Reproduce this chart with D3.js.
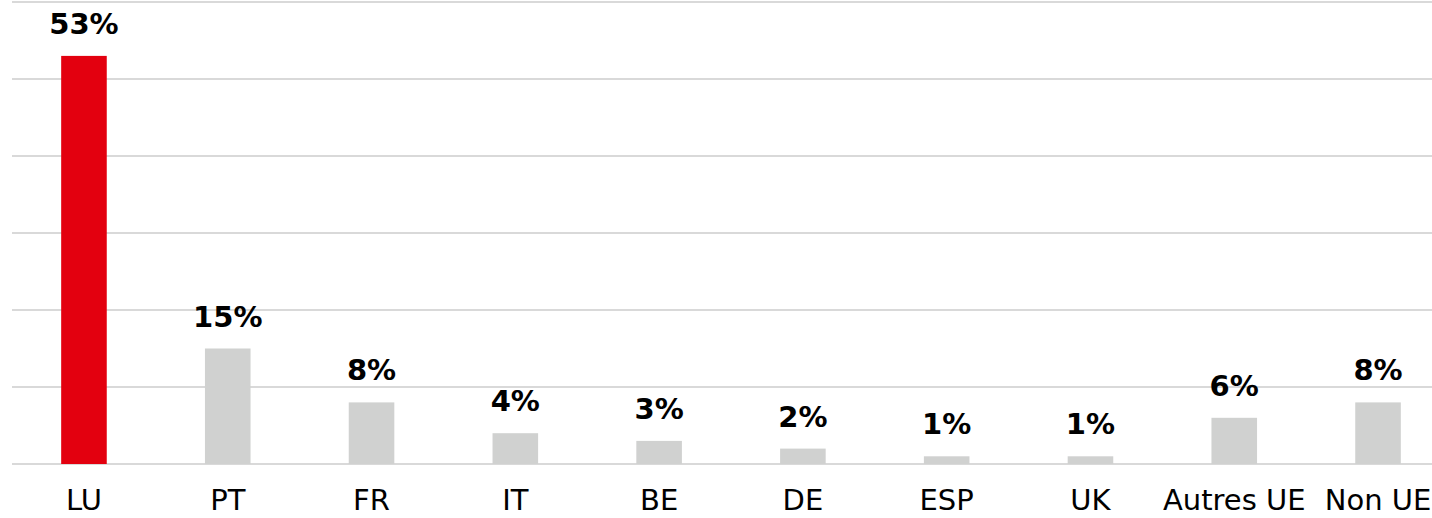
<!DOCTYPE html>
<head>
    <meta charset="utf-8">
    <style type="text/css">
    body { margin: 0; background: #fff; }
    </style>
</head>
<body>
    <div id="my_dataviz"></div>

    <script src="https://d3js.org/d3.v7.min.js"></script>
    <script type="text/javascript">

    // data
    var categories = ["LU", "PT", "FR", "IT", "BE", "DE", "ESP", "UK", "Autres UE", "Non UE"];
    var values = [53, 15, 8, 4, 3, 2, 1, 1, 6, 8];
    var gridTicks = [0, 10, 20, 30, 40, 50, 60];

    var width = 1432, height = 518;

    var svg = d3.select("#my_dataviz")
      .append("svg")
        .attr("width", width)
        .attr("height", height);

    // scales
    var x = d3.scaleBand()
      .domain(categories)
      .range([12, 1450])
      .paddingInner(0.683)
      .paddingOuter(0.342);

    var y = d3.scaleLinear()
      .domain([0, 60])
      .range([464, 2]);

    // gridlines
    svg.append("g")
      .selectAll("line")
      .data(gridTicks)
      .enter()
      .append("line")
        .attr("x1", 12)
        .attr("x2", width)
        .attr("y1", d => y(d))
        .attr("y2", d => y(d))
        .style("stroke", "#d9d9d9")
        .style("stroke-width", 2);

    var data = categories.map((c, i) => ({cat: c, val: values[i]}));

    // bars
    svg.append("g")
      .selectAll("rect")
      .data(data)
      .enter()
      .append("rect")
        .attr("x", d => x(d.cat))
        .attr("y", d => y(d.val))
        .attr("width", x.bandwidth())
        .attr("height", d => y(0) - y(d.val))
        .style("fill", d => d.cat == "LU" ? "#e3000f" : "#d0d1d0");

    // value labels
    svg.append("g")
      .selectAll("text")
      .data(data)
      .enter()
      .append("text")
        .attr("x", d => x(d.cat) + x.bandwidth() / 2)
        .attr("y", d => y(d.val) - 22)
        .attr("text-anchor", "middle")
        .style("font-family", "DejaVu Sans")
        .style("font-weight", "bold")
        .style("font-size", "29px")
        .style("fill", "#000")
        .text(d => d.val + "%");

    // category labels (kept inside the bottom edge)
    svg.append("g")
      .selectAll("text")
      .data(categories)
      .enter()
      .append("text")
        .attr("x", d => x(d) + x.bandwidth() / 2)
        .attr("y", 510)
        .attr("text-anchor", "middle")
        .style("font-family", "DejaVu Sans")
        .style("font-size", "29px")
        .style("fill", "#000")
        .text(d => d);

    </script>
</body>
